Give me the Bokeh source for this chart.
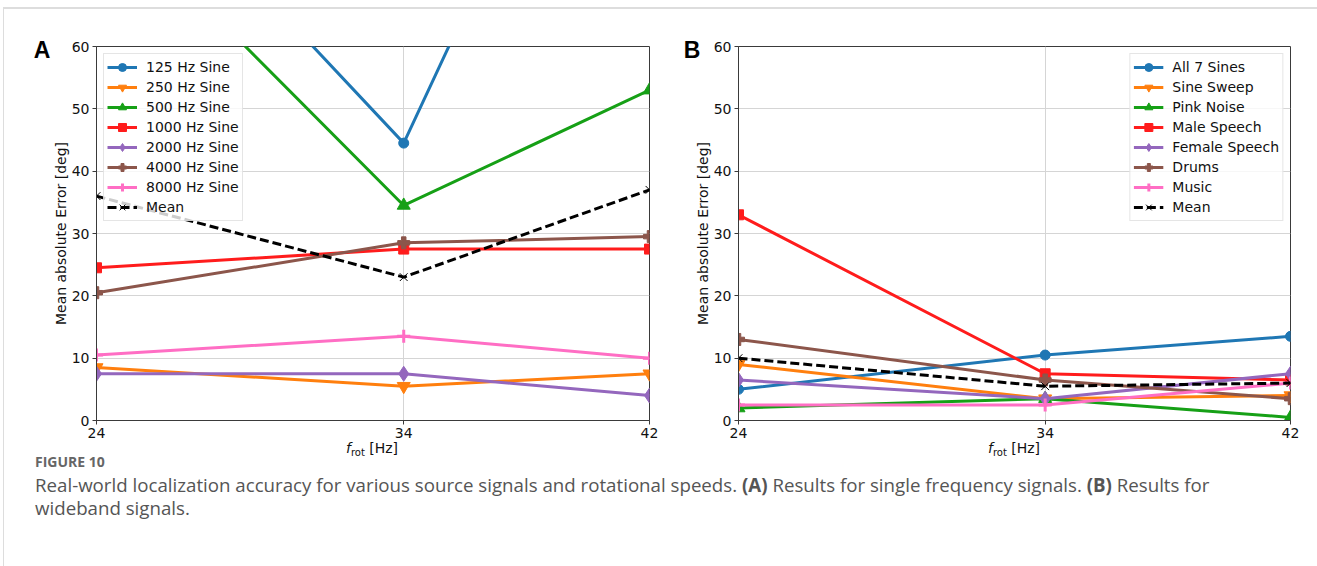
from bokeh.plotting import figure
from bokeh.models import Range1d, FixedTicker, Legend, LegendItem, Div
from bokeh.layouts import column, row
from bokeh.embed import file_html
from bokeh.resources import INLINE

# ---------------- data ----------------
rot_speeds = [24, 34, 42]

single_labels = ["125 Hz Sine", "250 Hz Sine", "500 Hz Sine", "1000 Hz Sine",
                 "2000 Hz Sine", "4000 Hz Sine", "8000 Hz Sine", "Mean"]
sine_125 = [97, 44.5, 129]
sine_250 = [8.5, 5.5, 7.5]
sine_500 = [84, 34.5, 53]
sine_1000 = [24.5, 27.5, 27.5]
sine_2000 = [7.5, 7.5, 4]
sine_4000 = [20.5, 28.5, 29.5]
sine_8000 = [10.5, 13.5, 10]
mean_single = [36, 23, 37]

wide_labels = ["All 7 Sines", "Sine Sweep", "Pink Noise", "Male Speech",
               "Female Speech", "Drums", "Music", "Mean"]
all_sines = [5, 10.5, 13.5]
sine_sweep = [9, 3.5, 4]
pink_noise = [2, 3.5, 0.5]
male_speech = [33, 7.5, 6.5]
female_speech = [6.5, 3.5, 7.5]
drums = [13, 6.5, 3.5]
music = [2.5, 2.5, 6]
mean_wide = [10, 5.5, 6]

y_ticks = [0, 10, 20, 30, 40, 50, 60]

# ---------------- styles ----------------
colors = ["#1f77b4", "#ff7f0e", "#16a016", "#ff1c1c", "#9467bd", "#8c564b", "#ff6ec4", "black"]
markers = ["circle", "inverted_triangle", "triangle", "square", "diamond", "plus", "cross", "x"]
sizes = [10, 13, 13, 10, 15, 12, 13, 11]

FONT = "DejaVu Sans"


def make_panel(series, labels, width, bl, br, legend_loc):
    p = figure(width=width, height=460, x_range=Range1d(24, 42), y_range=Range1d(0, 60),
               output_backend="svg", toolbar_location=None,
               min_border_left=bl, min_border_right=br, min_border_top=46, min_border_bottom=40)
    p.background_fill_color = "white"
    p.border_fill_color = "white"
    p.outline_line_color = "#3a3a3a"
    p.outline_line_width = 1

    p.xaxis.ticker = FixedTicker(ticks=rot_speeds)
    p.yaxis.ticker = FixedTicker(ticks=y_ticks)
    for ax in (p.xaxis, p.yaxis):
        ax.axis_line_color = "#3a3a3a"
        ax.major_tick_line_color = "#3a3a3a"
        ax.major_tick_out = 4
        ax.major_tick_in = 0
        ax.minor_tick_line_color = None
        ax.major_label_text_font = FONT
        ax.major_label_text_font_size = "14px"
        ax.major_label_text_color = "#111111"
        ax.major_label_standoff = 3
    p.yaxis.axis_label = "Mean absolute Error [deg]"
    p.yaxis.axis_label_text_font = FONT
    p.yaxis.axis_label_text_font_size = "14px"
    p.yaxis.axis_label_text_font_style = "normal"
    p.yaxis.axis_label_text_color = "#111111"
    p.yaxis.axis_label_standoff = 0

    p.xgrid.grid_line_color = "#d5d5d5"
    p.ygrid.grid_line_color = "#d5d5d5"

    items = []
    for i, (ys, lab) in enumerate(zip(series, labels)):
        c = colors[i]
        if lab == "Mean":
            lr = p.line(rot_speeds, ys, line_color=c, line_width=3, line_dash="9 4")
            sr = p.scatter(rot_speeds, ys, marker=markers[i], size=sizes[i],
                           line_color=c, line_width=1)
        else:
            lr = p.line(rot_speeds, ys, line_color=c, line_width=3)
            if markers[i] == "cross":
                sr = p.scatter(rot_speeds, ys, marker="cross", size=sizes[i],
                               line_color=c, line_width=3)
            else:
                sr = p.scatter(rot_speeds, ys, marker=markers[i], size=sizes[i],
                               fill_color=c, line_color=c)
        items.append(LegendItem(label=lab, renderers=[lr, sr]))

    leg = Legend(items=items, location=legend_loc)
    leg.margin = 7
    leg.padding = 3
    leg.spacing = 0
    leg.glyph_width = 30
    leg.glyph_height = 20
    leg.label_height = 20
    leg.label_standoff = 9
    leg.label_text_font = FONT
    leg.label_text_font_size = "14px"
    leg.label_text_color = "#111111"
    leg.border_line_color = "#cccccc"
    leg.border_line_width = 1
    leg.background_fill_color = "white"
    leg.background_fill_alpha = 0.8
    p.add_layout(leg, "center")
    return p


pA = make_panel([sine_125, sine_250, sine_500, sine_1000, sine_2000, sine_4000, sine_8000, mean_single],
                single_labels, 680, 96, 31, "top_left")
pB = make_panel([all_sines, sine_sweep, pink_noise, male_speech, female_speech, drums, music, mean_wide],
                wide_labels, 629, 58, 19, "top_right")

CAP_TOP = 460  # page y where the caption block starts


def overlay(x, y, html, style):
    return ("<div style='position:absolute; left:%dpx; top:%dpx; transform:translate(-50%%,-50%%); "
            "white-space:nowrap; %s'>%s</div>" % (x, y - CAP_TOP, style, html))


xlab = ("<i>f</i><span style='font-size:10px; position:relative; top:3px;'>rot</span> [Hz]")
xlab_style = "font-family:\"DejaVu Sans\"; font-size:14px; color:#111;"
letter_style = "font-family:\"Liberation Sans\", Arial; font-weight:bold; font-size:23px; color:#000;"

overlays = (
    "<div style='position:relative; width:0; height:0; overflow:visible;'>"
    "<div style='position:absolute; left:3px; top:%dpx; width:1400px; height:700px; "
    "border-top:2px solid #dddddd; border-left:1px solid #dddddd;'></div>" % (7 - CAP_TOP)
    + overlay(42, 50, "A", letter_style)
    + overlay(692, 50, "B", letter_style)
    + overlay(372, 448, xlab, xlab_style)
    + overlay(1014, 448, xlab, xlab_style)
    + "</div>"
)

caption_html = (
    "<div style='padding-left:35px; margin-top:-6px;'>"
    "<div style='font-family:\"Open Sans\", sans-serif; color:#666666; font-size:14px; "
    "font-weight:bold; line-height:16px;'>FIGURE 10</div>"
    "<div style='font-family:\"Open Sans\", sans-serif; color:#555555; font-size:18.7px; "
    "line-height:23px; margin-top:3px;'>Real-world localization accuracy for various source signals and "
    "rotational speeds. <b>(A)</b> Results for single frequency signals. <b>(B)</b> Results for<br>"
    "wideband signals.</div></div>"
)

caption = Div(text=overlays + caption_html, width=1309, height=96, margin=(0, 0, 0, 0),
              styles={"overflow": "visible"})

layout = column(row(pA, pB, spacing=0), caption, spacing=0)

open("out.html", "w").write(file_html(layout, INLINE))
